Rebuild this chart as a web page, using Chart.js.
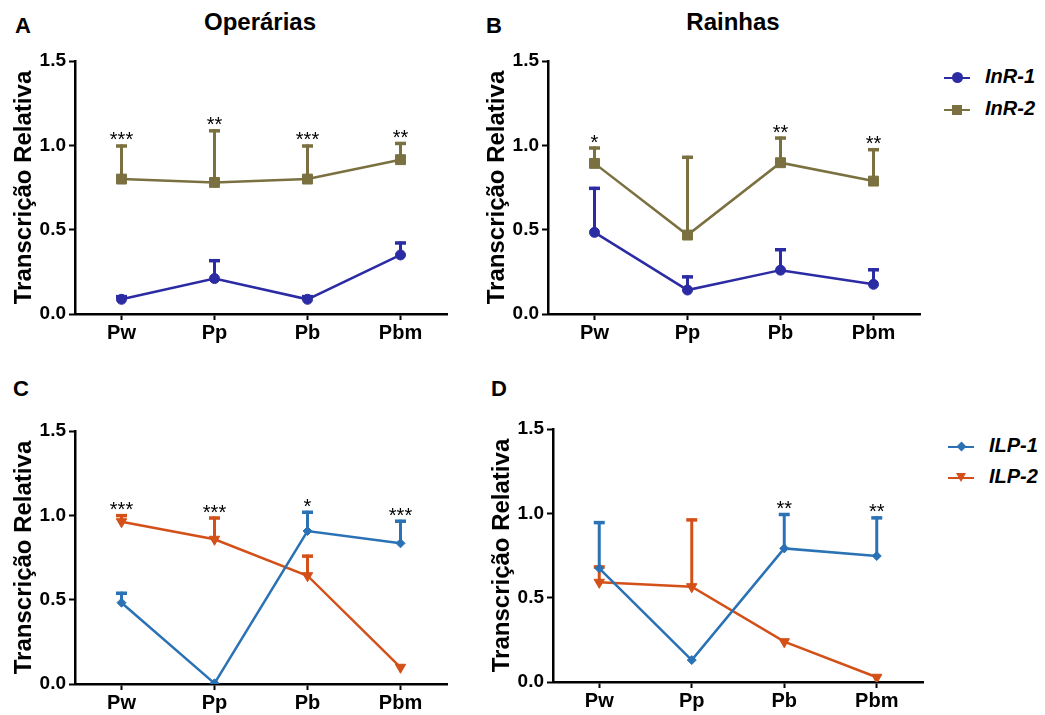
<!DOCTYPE html>
<html>
<head>
<meta charset="utf-8">
<script src="https://cdn.jsdelivr.net/npm/chart.js@4.4.1/dist/chart.umd.min.js"></script>
<style>
  body { margin: 0; width: 1045px; height: 715px; overflow: hidden; background: #fff;
         font-family: "Liberation Sans", Arial, sans-serif; }
  canvas { position: absolute; }
  .lbl { position: absolute; font-weight: bold; color: #000; white-space: nowrap; }
  .letter { font-size: 22px; }
  .title { font-size: 24px; transform: translateX(-50%); }
  .leg { position: absolute; height: 20px; width: 100px; }
  .leg .line { position: absolute; left: 0; top: 9px; width: 26px; height: 2px; }
  .leg .mk { position: absolute; }
  .leg .txt { position: absolute; left: 41px; top: -3px; font-size: 20px; font-weight: bold; font-style: italic; white-space: nowrap; }
</style>
</head>
<body>
<div class="lbl letter" style="left:15px;top:13px">A</div>
<div class="lbl letter" style="left:486px;top:13px">B</div>
<div class="lbl letter" style="left:13px;top:376px">C</div>
<div class="lbl letter" style="left:491px;top:376px">D</div>
<div class="lbl title" style="left:260px;top:8px">Operárias</div>
<div class="lbl title" style="left:733px;top:8px">Rainhas</div>

<canvas id="chartA" width="460" height="305" style="left:0;top:40px"></canvas>
<canvas id="chartB" width="460" height="305" style="left:473px;top:40px"></canvas>
<canvas id="chartC" width="460" height="305" style="left:0;top:410px"></canvas>
<canvas id="chartD" width="460" height="305" style="left:478px;top:408px"></canvas>

<div class="leg" style="left:944px;top:68px">
  <div class="line" style="background:#2B2BA3"></div>
  <div class="mk" style="left:8px;top:4px;width:11px;height:11px;border-radius:50%;background:#2B2BA3"></div>
  <div class="txt">InR-1</div>
</div>
<div class="leg" style="left:944px;top:100px">
  <div class="line" style="background:#7A7040"></div>
  <div class="mk" style="left:8px;top:5px;width:10px;height:10px;background:#7A7040"></div>
  <div class="txt">InR-2</div>
</div>
<div class="leg" style="left:948px;top:437px">
  <div class="line" style="background:#2A72B5"></div>
  <div class="mk" style="left:10px;top:6px;width:7px;height:7px;transform:rotate(45deg);background:#2A72B5"></div>
  <div class="txt">ILP-1</div>
</div>
<div class="leg" style="left:948px;top:468px">
  <div class="line" style="background:#D35018"></div>
  <div class="mk" style="left:8px;top:5px;width:0;height:0;border-left:5px solid transparent;border-right:5px solid transparent;border-top:9px solid #D35018"></div>
  <div class="txt">ILP-2</div>
</div>

<script>
const stages = ["Pw", "Pp", "Pb", "Pbm"];
const yTicks = [0, 0.5, 1.0, 1.5];

// A - Operárias, InR
const opInR1 = [0.087, 0.21, 0.087, 0.35];
const opInR1Err = [0.025, 0.115, 0.025, 0.08];
const opInR1Sig = ["", "", "", ""];
const opInR2 = [0.80, 0.78, 0.80, 0.915];
const opInR2Err = [0.205, 0.315, 0.205, 0.105];
const opInR2Sig = ["***", "**", "***", "**"];

// B - Rainhas, InR
const raInR1 = [0.484, 0.142, 0.26, 0.176];
const raInR1Err = [0.27, 0.087, 0.13, 0.095];
const raInR1Sig = ["", "", "", ""];
const raInR2 = [0.893, 0.468, 0.897, 0.788];
const raInR2Err = [0.10, 0.47, 0.155, 0.195];
const raInR2Sig = ["*", "", "**", "**"];

// C - Operárias, ILP
const opILP1 = [0.482, 0.004, 0.907, 0.834];
const opILP1Err = [0.065, 0, 0.12, 0.14];
const opILP1Sig = ["", "", "*", "***"];
const opILP2 = [0.962, 0.858, 0.642, 0.099];
const opILP2Err = [0.045, 0.135, 0.125, 0];
const opILP2Sig = ["***", "***", "", ""];

// D - Rainhas, ILP
const raILP1 = [0.674, 0.13, 0.792, 0.747];
const raILP1Err = [0.28, 0, 0.21, 0.235];
const raILP1Sig = ["", "", "**", "**"];
const raILP2 = [0.591, 0.565, 0.239, 0.028];
const raILP2Err = [0.10, 0.405, 0, 0];
const raILP2Sig = ["", "", "", ""];

const FONT = "'Liberation Sans', Arial, sans-serif";

// upper error bars + significance stars, positioned through the chart scales
const errorBars = {
  id: "errorBars",
  beforeDatasetsDraw(chart) {
    const { ctx, scales: { x, y } } = chart;
    chart.data.datasets.forEach((ds) => {
      ds.errUp.forEach((e, j) => {
        if (!e) return;
        const px = x.getPixelForValue(j);
        const y0 = y.getPixelForValue(ds.data[j]);
        const y1 = y.getPixelForValue(ds.data[j] + e);
        ctx.save();
        ctx.strokeStyle = ds.borderColor;
        ctx.lineWidth = 3;
        ctx.beginPath();
        ctx.moveTo(px, y0);
        ctx.lineTo(px, y1);
        ctx.stroke();
        ctx.lineWidth = 3.5;
        ctx.beginPath();
        ctx.moveTo(px - 5.5, y1 + 1.5);
        ctx.lineTo(px + 5.5, y1 + 1.5);
        ctx.stroke();
        ctx.restore();
      });
    });
  },
  afterDatasetsDraw(chart) {
    const { ctx, scales: { x, y } } = chart;
    chart.data.datasets.forEach((ds) => {
      ds.stars.forEach((s, j) => {
        if (!s) return;
        const px = x.getPixelForValue(j);
        const y1 = y.getPixelForValue(ds.data[j] + ds.errUp[j]);
        ctx.save();
        ctx.fillStyle = "#000";
        ctx.font = "20px " + FONT;
        ctx.textAlign = "center";
        ctx.textBaseline = "alphabetic";
        ctx.fillText(s, px, y1 + 2);
        ctx.restore();
      });
    });
  },
};

function series(label, data, errUp, stars, color, pointStyle, radius, rotation) {
  return {
    label, data, errUp, stars,
    borderColor: color,
    backgroundColor: color,
    borderWidth: 2.5,
    pointStyle,
    pointRadius: radius,
    pointRotation: rotation || 0,
    pointBorderWidth: 1,
    tension: 0,
  };
}

function makeChart(id, datasets, padRight, xHeight) {
  return new Chart(document.getElementById(id), {
    type: "line",
    data: { labels: stages, datasets },
    options: {
      responsive: false,
      animation: false,
      layout: { padding: { top: 21, right: padRight, bottom: 0, left: 0 } },
      plugins: { legend: { display: false }, tooltip: { enabled: false } },
      scales: {
        x: {
          offset: true,
          grid: { display: true, drawOnChartArea: false, drawTicks: true, tickLength: 6, tickWidth: 2, tickColor: "#000", offset: false },
          border: { display: true, width: 2.5, color: "#000" },
          ticks: { color: "#000", padding: 1, font: { family: FONT, size: 20, weight: "bold" } },
          afterFit: (s) => { s.height = xHeight; },
        },
        y: {
          min: 0,
          max: 1.5,
          afterBuildTicks: (s) => { s.ticks = yTicks.map((v) => ({ value: v })); },
          grid: { display: true, drawOnChartArea: false, drawTicks: true, tickLength: 6, tickWidth: 2, tickColor: "#000" },
          border: { display: true, width: 2.5, color: "#000" },
          ticks: { color: "#000", padding: 3, font: { family: FONT, size: 19, weight: "bold" }, callback: (v) => v.toFixed(1) },
          title: { display: true, text: "Transcrição Relativa", color: "#000", padding: { top: 10, bottom: 0 }, font: { family: FONT, size: 24, weight: "bold", lineHeight: 1.2 } },
          afterFit: (s) => { s.width = 75; },
        },
      },
    },
    plugins: [errorBars],
  });
}

const cInR1 = "#2B2BA3", cInR2 = "#7A7040", cILP1 = "#2A72B5", cILP2 = "#D35018";

makeChart("chartA", [
  series("InR-1", opInR1, opInR1Err, opInR1Sig, cInR1, "circle", 5),
  series("InR-2", opInR2, opInR2Err, opInR2Sig, cInR2, "rect", 7),
], 13, 31);

makeChart("chartB", [
  series("InR-1", raInR1, raInR1Err, raInR1Sig, cInR1, "circle", 5),
  series("InR-2", raInR2, raInR2Err, raInR2Sig, cInR2, "rect", 7),
], 13, 31);

makeChart("chartC", [
  series("ILP-1", opILP1, opILP1Err, opILP1Sig, cILP1, "rectRot", 4.5),
  series("ILP-2", opILP2, opILP2Err, opILP2Sig, cILP2, "triangle", 6, 180),
], 13, 31);

makeChart("chartD", [
  series("ILP-1", raILP1, raILP1Err, raILP1Sig, cILP1, "rectRot", 4.5),
  series("ILP-2", raILP2, raILP2Err, raILP2Sig, cILP2, "triangle", 6, 180),
], 15, 31);
</script>
</body>
</html>
